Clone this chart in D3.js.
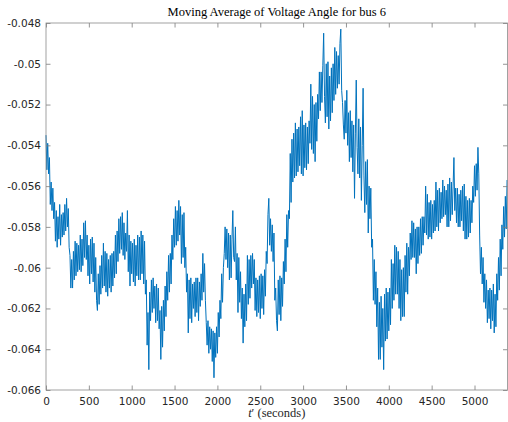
<!DOCTYPE html>
<html>
<head>
<meta charset="utf-8">
<script src="https://cdn.jsdelivr.net/npm/d3@7"></script>
<style>
  body { margin: 0; background: #fff; }
  svg { display: block; }
</style>
</head>
<body>
<div id="chart"></div>
<script>
// Moving average of the voltage angle, one sample every 10 s
const sampleStep = 10;
const angle = [
  -0.0535, -0.0552, -0.0539, -0.0554, -0.0546, -0.0569, -0.0558, -0.0572, -0.0561, -0.0576,
  -0.0568, -0.0587, -0.0572, -0.0590, -0.0575, -0.0586, -0.0569, -0.0589, -0.0574, -0.0585,
  -0.0573, -0.0584, -0.0569, -0.0582, -0.0566, -0.0580, -0.0571, -0.0590, -0.0594, -0.0610,
  -0.0596, -0.0610, -0.0592, -0.0606, -0.0587, -0.0604, -0.0588, -0.0602, -0.0589, -0.0601,
  -0.0584, -0.0602, -0.0586, -0.0599, -0.0578, -0.0595, -0.0577, -0.0596, -0.0584, -0.0604,
  -0.0589, -0.0608, -0.0586, -0.0603, -0.0585, -0.0607, -0.0588, -0.0612, -0.0595, -0.0616,
  -0.0621, -0.0603, -0.0618, -0.0599, -0.0613, -0.0594, -0.0610, -0.0588, -0.0609, -0.0592,
  -0.0612, -0.0593, -0.0614, -0.0596, -0.0610, -0.0594, -0.0612, -0.0593, -0.0609, -0.0592,
  -0.0605, -0.0584, -0.0603, -0.0582, -0.0597, -0.0576, -0.0593, -0.0575, -0.0591, -0.0573,
  -0.0594, -0.0578, -0.0596, -0.0583, -0.0592, -0.0572, -0.0602, -0.0584, -0.0609, -0.0587,
  -0.0603, -0.0588, -0.0607, -0.0586, -0.0609, -0.0589, -0.0604, -0.0584, -0.0606, -0.0585,
  -0.0606, -0.0582, -0.0603, -0.0584, -0.0608, -0.0587, -0.0613, -0.0606, -0.0638, -0.0622,
  -0.0650, -0.0612, -0.0626, -0.0606, -0.0622, -0.0605, -0.0620, -0.0609, -0.0627, -0.0608,
  -0.0626, -0.0610, -0.0630, -0.0621, -0.0645, -0.0619, -0.0639, -0.0616, -0.0631, -0.0609,
  -0.0624, -0.0602, -0.0616, -0.0594, -0.0612, -0.0593, -0.0608, -0.0584, -0.0596, -0.0576,
  -0.0590, -0.0570, -0.0589, -0.0572, -0.0587, -0.0567, -0.0584, -0.0570, -0.0598, -0.0574,
  -0.0595, -0.0573, -0.0600, -0.0590, -0.0612, -0.0603, -0.0632, -0.0606, -0.0625, -0.0605,
  -0.0627, -0.0608, -0.0620, -0.0607, -0.0624, -0.0605, -0.0622, -0.0605, -0.0626, -0.0607,
  -0.0619, -0.0603, -0.0616, -0.0593, -0.0612, -0.0598, -0.0616, -0.0627, -0.0638, -0.0626,
  -0.0642, -0.0629, -0.0640, -0.0630, -0.0646, -0.0631, -0.0654, -0.0632, -0.0644, -0.0629,
  -0.0642, -0.0622, -0.0634, -0.0616, -0.0625, -0.0603, -0.0617, -0.0600, -0.0593, -0.0580,
  -0.0596, -0.0581, -0.0600, -0.0583, -0.0606, -0.0584, -0.0605, -0.0586, -0.0572, -0.0595,
  -0.0597, -0.0580, -0.0606, -0.0593, -0.0622, -0.0595, -0.0617, -0.0602, -0.0625, -0.0610,
  -0.0637, -0.0613, -0.0629, -0.0608, -0.0626, -0.0594, -0.0618, -0.0596, -0.0615, -0.0594,
  -0.0610, -0.0593, -0.0608, -0.0596, -0.0621, -0.0605, -0.0624, -0.0606, -0.0622, -0.0604,
  -0.0625, -0.0603, -0.0620, -0.0604, -0.0623, -0.0601, -0.0614, -0.0592, -0.0598, -0.0574,
  -0.0566, -0.0589, -0.0576, -0.0592, -0.0579, -0.0597, -0.0583, -0.0616, -0.0610, -0.0626,
  -0.0631, -0.0606, -0.0623, -0.0604, -0.0626, -0.0605, -0.0619, -0.0597, -0.0608, -0.0586,
  -0.0602, -0.0574, -0.0590, -0.0572, -0.0576, -0.0544, -0.0568, -0.0537, -0.0558, -0.0534,
  -0.0556, -0.0529, -0.0555, -0.0532, -0.0553, -0.0531, -0.0550, -0.0526, -0.0554, -0.0523,
  -0.0555, -0.0530, -0.0551, -0.0529, -0.0552, -0.0531, -0.0549, -0.0528, -0.0539, -0.0510,
  -0.0542, -0.0516, -0.0544, -0.0520, -0.0548, -0.0519, -0.0538, -0.0515, -0.0527, -0.0504,
  -0.0523, -0.0504, -0.0519, -0.0501, -0.0485, -0.0516, -0.0529, -0.0500, -0.0526, -0.0499,
  -0.0532, -0.0506, -0.0528, -0.0502, -0.0524, -0.0500, -0.0518, -0.0492, -0.0515, -0.0494,
  -0.0512, -0.0496, -0.0510, -0.0490, -0.0483, -0.0513, -0.0519, -0.0530, -0.0537, -0.0518,
  -0.0534, -0.0513, -0.0540, -0.0524, -0.0548, -0.0523, -0.0546, -0.0528, -0.0553, -0.0530,
  -0.0566, -0.0534, -0.0508, -0.0541, -0.0554, -0.0527, -0.0556, -0.0531, -0.0567, -0.0540,
  -0.0512, -0.0555, -0.0573, -0.0548, -0.0569, -0.0547, -0.0583, -0.0560, -0.0576, -0.0561,
  -0.0590, -0.0586, -0.0616, -0.0596, -0.0618, -0.0602, -0.0629, -0.0610, -0.0645, -0.0617,
  -0.0645, -0.0614, -0.0639, -0.0620, -0.0650, -0.0613, -0.0636, -0.0610, -0.0635, -0.0612,
  -0.0631, -0.0610, -0.0628, -0.0596, -0.0620, -0.0598, -0.0616, -0.0589, -0.0613, -0.0590,
  -0.0613, -0.0592, -0.0620, -0.0596, -0.0626, -0.0601, -0.0624, -0.0600, -0.0624, -0.0594,
  -0.0612, -0.0588, -0.0613, -0.0590, -0.0604, -0.0583, -0.0596, -0.0577, -0.0595, -0.0578,
  -0.0595, -0.0581, -0.0603, -0.0580, -0.0598, -0.0580, -0.0594, -0.0576, -0.0593, -0.0575,
  -0.0589, -0.0575, -0.0583, -0.0560, -0.0584, -0.0564, -0.0586, -0.0568, -0.0585, -0.0567,
  -0.0586, -0.0569, -0.0583, -0.0567, -0.0582, -0.0558, -0.0580, -0.0562, -0.0582, -0.0561,
  -0.0578, -0.0563, -0.0576, -0.0557, -0.0575, -0.0560, -0.0574, -0.0562, -0.0580, -0.0559,
  -0.0580, -0.0556, -0.0577, -0.0558, -0.0574, -0.0560, -0.0546, -0.0572, -0.0561, -0.0578,
  -0.0561, -0.0580, -0.0564, -0.0580, -0.0562, -0.0577, -0.0560, -0.0582, -0.0559, -0.0586,
  -0.0565, -0.0586, -0.0567, -0.0585, -0.0566, -0.0583, -0.0567, -0.0578, -0.0560, -0.0568,
  -0.0550, -0.0565, -0.0549, -0.0562, -0.0541, -0.0554, -0.0584, -0.0603, -0.0590, -0.0608,
  -0.0595, -0.0617, -0.0603, -0.0620, -0.0606, -0.0627, -0.0611, -0.0625, -0.0610, -0.0630,
  -0.0611, -0.0626, -0.0608, -0.0632, -0.0613, -0.0629, -0.0603, -0.0616, -0.0595, -0.0611,
  -0.0586, -0.0604, -0.0579, -0.0591, -0.0570, -0.0585, -0.0565, -0.0581, -0.0557
];
const xTicks = [0, 500, 1000, 1500, 2000, 2500, 3000, 3500, 4000, 4500, 5000];
const yTicks = [-0.066, -0.064, -0.062, -0.06, -0.058, -0.056, -0.054, -0.052, -0.05, -0.048];
const xMax = 5385;

const W = 508, H = 422;
const margin = {top: 23, right: 0.5, bottom: 32, left: 46};
const iw = W - margin.left - margin.right;
const ih = H - margin.top - margin.bottom;

const svg = d3.select("#chart").append("svg")
  .attr("width", W)
  .attr("height", H);

const g = svg.append("g")
  .attr("transform", `translate(${margin.left},${margin.top})`);

const x = d3.scaleLinear().domain([0, xMax]).range([0, iw]);
const y = d3.scaleLinear().domain([-0.066, -0.048]).range([ih, 0]);

// the line
g.append("path")
  .datum(angle)
  .attr("fill", "none")
  .attr("stroke", "#0072BD")
  .attr("stroke-width", 1)
  .attr("stroke-linejoin", "round")
  .attr("d", d3.line()
    .x((d, i) => x(i * sampleStep))
    .y(d => y(d)));

const axisColor = "#262626";
const tickFont = "'DejaVu Sans', sans-serif";

function styleAxis(sel) {
  sel.select(".domain").remove();
  sel.selectAll(".tick line").attr("stroke", "#7a7a7a").attr("stroke-width", 0.8);
  sel.selectAll(".tick text")
    .attr("fill", axisColor)
    .style("font-family", tickFont)
    .style("font-size", "10.5px");
}

// bottom + top
g.append("g")
  .attr("transform", `translate(0,${ih})`)
  .call(d3.axisBottom(x).tickValues(xTicks).tickSize(-4.5).tickPadding(8).tickFormat(d3.format("d")))
  .call(styleAxis);
g.append("g")
  .call(d3.axisTop(x).tickValues(xTicks).tickSize(-4.5).tickFormat(""))
  .call(styleAxis);

// left + right
g.append("g")
  .call(d3.axisLeft(y).tickValues(yTicks).tickSize(-4.5).tickPadding(5).tickFormat(d => String(+d.toFixed(3))))
  .call(styleAxis);
g.append("g")
  .attr("transform", `translate(${iw},0)`)
  .call(d3.axisRight(y).tickValues(yTicks).tickSize(-4.5).tickFormat(""))
  .call(styleAxis);

// box
g.append("rect")
  .attr("x", 0).attr("y", 0)
  .attr("width", iw).attr("height", ih)
  .attr("fill", "none")
  .attr("stroke", "#8a8a8a")
  .attr("stroke-width", 0.8);

// title
svg.append("text")
  .attr("x", margin.left + iw / 2)
  .attr("y", 16)
  .attr("text-anchor", "middle")
  .style("font-family", "'Liberation Serif', serif")
  .style("font-size", "12.5px")
  .attr("fill", "#000")
  .text("Moving Average of Voltage Angle for bus 6");

// x label
const xl = svg.append("text")
  .attr("x", margin.left + iw / 2)
  .attr("y", 417)
  .attr("text-anchor", "middle")
  .style("font-family", "'Liberation Serif', serif")
  .style("font-size", "12.5px")
  .attr("fill", axisColor);
xl.append("tspan").style("font-style", "italic").text("t");
xl.append("tspan").text("\u2032 (seconds)");
</script>
</body>
</html>
